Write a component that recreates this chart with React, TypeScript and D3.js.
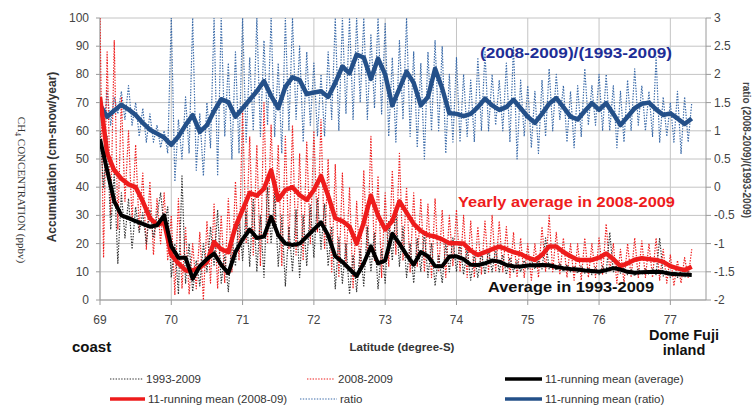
import React from "react";
import * as d3 from "d3";

// latitude grid of the series (degree-S)
const latStart = 69;
const rawStep = 0.05;
const meanStep = 0.1;

// yearly accumulation, 1993-2009 average (cm-snow/year)
const raw1993 = [
  60, 40, 58, 25, 45, 13, 38, 22, 36, 18,
  33, 24, 31, 20, 32, 22, 30, 38, 26, 33,
  8, 20, 2, 44, 6, 20, 3, 14, 5, 20,
  10, 26, 12, 32, 6, 16, 3, 22, 12, 30,
  14, 32, 12, 36, 10, 30, 8, 40, 20, 38,
  12, 30, 5, 26, 10, 32, 8, 30, 12, 34,
  15, 36, 18, 34, 12, 26, 4, 22, 6, 20,
  2, 16, 3, 18, 5, 26, 10, 24, 4, 18,
  6, 28, 14, 32, 12, 26, 8, 20, 6, 22,
  10, 24, 8, 20, 5, 16, 6, 20, 10, 22,
  10, 20, 9, 18, 7, 16, 8, 17, 9, 18,
  10, 18, 10, 16, 9, 15, 10, 14, 10, 14,
  11, 14, 11, 14, 11, 22, 11, 13, 10.5, 13,
  10, 12.5, 10, 12, 9.5, 12, 9.5, 11.5, 9, 11.5,
  9, 12, 9.5, 24, 10, 12, 9.5, 11.5, 9, 11,
  8.5, 11, 9, 11, 9, 11, 9, 22, 8.5, 10.5,
  8, 10, 8, 10, 8, 10, 9,
];

// yearly accumulation, 2008-2009
const raw2008 = [
  100, 15, 88, 30, 92, 25, 72, 35, 60, 28,
  55, 25, 45, 18, 42, 16, 36, 20, 38, 14,
  30, 2, 36, 4, 26, 2, 20, 4, 24, 0,
  28, 6, 34, 4, 30, 6, 36, 10, 42, 14,
  68, 20, 58, 16, 55, 12, 70, 20, 62, 25,
  55, 12, 58, 18, 62, 16, 52, 14, 56, 20,
  60, 24, 64, 18, 50, 10, 48, 8, 45, 12,
  40, 4, 35, 10, 46, 16, 58, 14, 44, 8,
  38, 12, 46, 16, 52, 14, 40, 10, 38, 12,
  36, 10, 34, 8, 36, 10, 32, 8, 30, 12,
  32, 10, 30, 8, 28, 8, 26, 9, 28, 10,
  30, 10, 28, 10, 26, 8, 24, 8, 22, 8,
  20, 7, 20, 8, 26, 10, 30, 10, 24, 9,
  22, 8, 20, 7, 20, 7, 22, 8, 20, 8,
  22, 9, 27, 10, 20, 6, 18, 6, 20, 8,
  22, 8, 21, 8, 20, 8, 22, 7, 18, 6,
  16, 5, 14, 6, 15, 8, 18,
];

// ratio (2008-2009)/(1993-2009)
const rawRatio = [
  1.6, 1.0, 1.7, 1.1, 1.6, 1.3, 1.7, 1.2, 1.8, 1.1,
  1.5, 0.9, 1.4, 0.8, 1.3, 0.8, 1.1, 0.7, 1.0, 0.6,
  3, 0.1, 1.2, 0.5, 1.6, 0.6, 3, 0.3, 1.3, 0.2,
  1.5, 0.7, 3, 0.2, 3, 0.9, 2.2, 0.5, 2.4, 0.6,
  3, 0.8, 2.3, 1.0, 3, 0.9, 2.6, 1.1, 3, 0.9,
  2.2, 0.6, 3, 1.0, 3, 1.2, 2.5, 0.8, 2.4, 1.1,
  2.2, 0.9, 2.0, 0.9, 2.4, 1.2, 3, 1.0, 3, 1.3,
  3, 1.2, 3, 1.5, 3, 1.2, 2.7, 1.4, 3, 1.3,
  2.9, 0.9, 2.3, 0.8, 2.6, 1.2, 3, 0.9, 2.4, 0.7,
  2.2, 0.5, 2.4, 1.0, 2.6, 1.0, 2.5, 0.6, 2.0, 0.8,
  2.3, 0.8, 2.0, 0.9, 1.9, 0.8, 2.3, 1.0, 2.4, 1.0,
  2.0, 1.1, 1.9, 1.0, 2.2, 0.8, 2.5, 0.5, 1.9, 0.9,
  1.8, 0.7, 1.7, 0.6, 1.9, 0.9, 2.1, 1.0, 2.0, 1.2,
  1.8, 0.8, 1.7, 0.7, 1.8, 0.9, 2.1, 1.1, 1.8, 1.1,
  2.0, 1.0, 2.0, 1.0, 1.8, 0.7, 1.7, 0.8, 1.9, 1.0,
  2.1, 1.1, 1.8, 1.0, 1.7, 0.9, 2.3, 0.8, 1.6, 0.9,
  1.5, 0.8, 1.7, 0.6, 1.6, 0.8, 1.5,
];

// 11-running means
const mean1993 = [
  57, 46, 35, 30, 29, 28, 27, 26, 26.5, 30,
  19, 15, 15, 7.5, 12, 14.5, 16.5, 12.5, 9.5, 17,
  21.5, 25, 22, 22.5, 29.5, 23, 20, 19.5, 20, 22.5,
  25, 27.5, 23, 15.5, 13.5, 11, 8.5, 13, 19, 13,
  14, 23.5, 20, 16, 12.5, 17, 15.5, 12, 12, 15.4,
  15.5, 14.5, 12.5, 12.4, 13, 14, 13.6, 12.4, 12, 11.9,
  12.2, 12.3, 12.4, 12.3, 11.7, 11.3, 11, 10.8, 10.5, 10.3,
  10, 10.6, 11.3, 10.8, 10, 9.7, 9.8, 9.9, 10, 9.8,
  9.3, 9.1, 9, 8.9,
];
const mean2008 = [
  72, 52, 46, 43, 41, 40, 35, 29, 26.6, 27.5,
  16, 13, 10.5, 10.5, 11.5, 13.5, 20.5, 18, 17, 26,
  32, 38, 37, 39.5, 46, 35.5, 39, 40, 37.2, 35.5,
  39, 44, 37, 29, 28, 26, 20, 27.5, 37, 30,
  25, 28, 35, 31, 27, 24.5, 23, 22.5, 21.5, 20.1,
  20.1, 20, 17.5, 16, 17, 18, 18.9, 18, 17, 16.3,
  15, 14.2, 16, 19, 19, 17, 15.5, 14.3, 14.2, 14.2,
  15, 16.5, 14.5, 12, 13, 14.3, 14.8, 14.5, 14.2, 13.5,
  12, 11.2, 10.6, 11.8,
];
const meanRatio = [
  1.46, 1.25, 1.36, 1.46, 1.38, 1.28, 1.14, 1.02, 0.95, 0.88,
  0.75, 0.9, 1.1, 1.28, 0.98, 1.1, 1.35, 1.56, 1.51, 1.25,
  1.4, 1.55, 1.7, 1.88, 1.62, 1.4, 1.78, 1.95, 1.9, 1.65,
  1.68, 1.7, 1.6, 1.85, 2.14, 2.02, 2.35, 2.3, 1.92, 2.28,
  2.0, 1.45, 1.75, 2.05, 1.85, 1.45, 1.6, 2.1, 1.75, 1.31,
  1.3, 1.26, 1.3, 1.42, 1.57, 1.45, 1.37, 1.42, 1.55, 1.4,
  1.25, 1.14, 1.3, 1.48, 1.58, 1.42, 1.25, 1.2, 1.35, 1.49,
  1.37, 1.49, 1.3, 1.1, 1.25, 1.4, 1.48, 1.5, 1.38, 1.28,
  1.31, 1.22, 1.12, 1.22,
];

const accTicks = [0, 10, 20, 30, 40, 50, 60, 70, 80, 90, 100];
const ratioTicks = [-2, -1.5, -1, -0.5, 0, 0.5, 1, 1.5, 2, 2.5, 3];
const latTicks = [69, 70, 71, 72, 73, 74, 75, 76, 77];

const font = "'Liberation Sans', Arial, sans-serif";
const RED = "#ee1c1c";
const BLUE = "#245089";
const BLUE_DOT = "#3a6aa8";
const NAVY = "#1e2e96";

export default function App() {
  const left = 100, right = 706, top = 18, bottom = 300;
  const x = d3.scaleLinear().domain([69, 77.5]).range([left, right]);
  const yAcc = d3.scaleLinear().domain([0, 100]).range([bottom, top]);
  const yRat = d3.scaleLinear().domain([-2, 3]).range([bottom, top]);

  const path = (vals: number[], step: number, y: d3.ScaleLinear<number, number>) =>
    d3.line<number>()
      .x((_, i) => x(latStart + i * step))
      .y((d) => y(d))(vals) || "";

  const dot = "1.4 1.4";

  const legend = [
    { x: 110, y: 380, text: "1993-2009", color: "#333", w: 1.2, dash: dot, len: 33 },
    { x: 307, y: 380, text: "2008-2009", color: RED, w: 1.2, dash: dot, len: 28 },
    { x: 505, y: 380, text: "11-running mean (average)", color: "#000", w: 3.5, dash: null, len: 37 },
    { x: 110, y: 400, text: "11-running mean (2008-09)", color: RED, w: 3.5, dash: null, len: 35 },
    { x: 300, y: 400, text: "ratio", color: BLUE_DOT, w: 1.2, dash: dot, len: 37 },
    { x: 505, y: 400, text: "11-running mean (ratio)", color: BLUE, w: 3.5, dash: null, len: 37 },
  ];

  return (
    <svg width={754} height={409} style={{ position: "absolute", left: 0, top: 0, background: "#fff" }} fontFamily={font}>
      <defs>
        <clipPath id="plot">
          <rect x={left} y={top} width={right - left} height={bottom - top} />
        </clipPath>
      </defs>

      {/* grid */}
      {accTicks.map((t) => (
        <line key={"h" + t} x1={left} x2={right} y1={yAcc(t)} y2={yAcc(t)} stroke="#c4c4c4" strokeWidth={1} />
      ))}
      {latTicks.map((t) => (
        <line key={"v" + t} x1={x(t)} x2={x(t)} y1={top} y2={bottom} stroke="#c4c4c4" strokeWidth={1} />
      ))}

      {/* axes */}
      <line x1={left} x2={left} y1={top} y2={bottom} stroke="#9a9a9a" />
      <line x1={right} x2={right} y1={top} y2={bottom} stroke="#9a9a9a" />
      <line x1={left} x2={right} y1={bottom} y2={bottom} stroke="#9a9a9a" />
      {accTicks.map((t) => (
        <g key={"la" + t}>
          <line x1={left - 4} x2={left} y1={yAcc(t)} y2={yAcc(t)} stroke="#9a9a9a" />
          <text x={89} y={yAcc(t) + 4} textAnchor="end" fontSize={12} fill="#444">{t}</text>
        </g>
      ))}
      {ratioTicks.map((t) => (
        <g key={"ra" + t}>
          <line x1={right} x2={right + 5} y1={yRat(t)} y2={yRat(t)} stroke="#9a9a9a" />
          <text x={714} y={yRat(t) + 4} fontSize={12} fill="#444">{t}</text>
        </g>
      ))}
      {latTicks.map((t) => (
        <g key={"xt" + t}>
          <line x1={x(t)} x2={x(t)} y1={bottom} y2={bottom + 5} stroke="#9a9a9a" />
          <text x={x(t)} y={324} textAnchor="middle" fontSize={12} fill="#444">{t}</text>
        </g>
      ))}

      {/* series */}
      <g clipPath="url(#plot)" fill="none" strokeLinejoin="round">
        <path d={path(rawRatio, rawStep, yRat)} stroke={BLUE_DOT} strokeWidth={1.2} strokeDasharray={dot} />
        <path d={path(raw2008, rawStep, yAcc)} stroke={RED} strokeWidth={1.2} strokeDasharray={dot} />
        <path d={path(raw1993, rawStep, yAcc)} stroke="#333" strokeWidth={1.2} strokeDasharray={dot} />
        <path d={path(meanRatio, meanStep, yRat)} stroke={BLUE} strokeWidth={4.5} />
        <path d={path(mean2008, meanStep, yAcc)} stroke={RED} strokeWidth={4.5} />
        <path d={path(mean1993, meanStep, yAcc)} stroke="#000" strokeWidth={4} />
      </g>

      {/* annotations */}
      <text x={480} y={58} fontSize={15} fontWeight="bold" fill={NAVY} textLength={192} lengthAdjust="spacingAndGlyphs">(2008-2009)/(1993-2009)</text>
      <text x={458} y={207} fontSize={15} fontWeight="bold" fill={RED} textLength={217} lengthAdjust="spacingAndGlyphs">Yearly average in 2008-2009</text>
      <text x={488} y={292} fontSize={15} fontWeight="bold" fill="#111" textLength={166} lengthAdjust="spacingAndGlyphs">Average in 1993-2009</text>

      {/* axis titles */}
      <text transform="translate(56,157) rotate(-90)" textAnchor="middle" fontSize={12} fontWeight="bold" fill="#333">Accumulation (cm-snow/year)</text>
      <text transform="translate(18,190) rotate(90)" textAnchor="middle" fontSize={11} fill="#333" fontFamily="'Liberation Serif', 'DejaVu Serif', serif">
        CH<tspan dy={3} fontSize={8}>4</tspan><tspan dy={-3}> CONCENTRATION (ppbv)</tspan>
      </text>
      <text transform="translate(743,150) rotate(90)" textAnchor="middle" fontSize={10} fontWeight="bold" fill="#444">ratio (2008-2009)/(1993-2009)</text>
      <text x={402} y={351} textAnchor="middle" fontSize={11.5} fontWeight="bold" fill="#333">Latitude (degree-S)</text>
      <text x={72} y={352} fontSize={15} fontWeight="bold" fill="#111">coast</text>
      <text x={684} y={340} textAnchor="middle" fontSize={14.5} fontWeight="bold" fill="#111">Dome Fuji</text>
      <text x={684} y={355} textAnchor="middle" fontSize={14.5} fontWeight="bold" fill="#111">inland</text>

      {/* legend */}
      {legend.map((l) => (
        <g key={l.text}>
          <line x1={l.x} x2={l.x + l.len} y1={l.y - 1} y2={l.y - 1} stroke={l.color} strokeWidth={l.w} strokeDasharray={l.dash || undefined} />
          <text x={l.x + l.len + 3} y={l.y + 3} fontSize={11.5} fill="#333">{l.text}</text>
        </g>
      ))}
    </svg>
  );
}
